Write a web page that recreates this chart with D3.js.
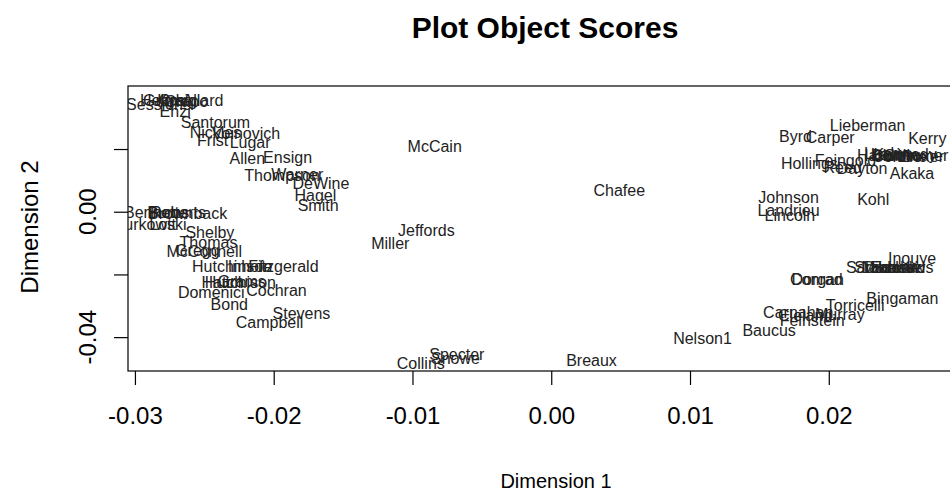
<!DOCTYPE html>
<html>
<head>
<meta charset="utf-8">
<script src="https://cdn.jsdelivr.net/npm/d3@7"></script>
<style>
  html, body { margin: 0; padding: 0; background: #fff; }
  text { font-family: "Liberation Sans", Arial, sans-serif; }
</style>
</head>
<body>
<div id="chart"></div>
<script>
/* Plot Object Scores — senators on two dimensions */

var senators = [
  'Sessions', 'Helms', 'Gramm', 'Kyl', 'Craig', 'Crapo', 'Allard', 'Enzi',
  'Santorum', 'Nickles', 'Voinovich', 'Frist', 'Lugar', 'Allen', 'Ensign',
  'Thompson', 'Warner', 'DeWine', 'Hagel', 'Smith', 'McCain', 'Chafee',
  'Jeffords', 'Miller',
  'Bennett', 'Burns', 'Roberts', 'Brownback', 'Murkowski', 'Lott', 'Shelby',
  'Thomas', 'McConnell', 'Gregg', 'Hutchinson', 'Inhofe', 'Fitzgerald',
  'Hutchison', 'Hatch', 'Grams', 'Domenici', 'Cochran', 'Bond', 'Stevens',
  'Campbell',
  'Collins', 'Specter', 'Snowe', 'Breaux', 'Nelson1',
  'Lieberman', 'Byrd', 'Carper', 'Kerry', 'Hollings', 'Feingold', 'Reed',
  'Dayton', 'Harkin', 'Levin', 'Durbin', 'Kennedy', 'Corzine', 'Leahy',
  'Boxer', 'Schumer', 'Akaka', 'Johnson', 'Landrieu', 'Lincoln', 'Kohl',
  'Inouye', 'Sarbanes', 'Mikulski', 'Daschle', 'Stabenow', 'Edwards',
  'Conrad', 'Dorgan', 'Bingaman', 'Torricelli', 'Carnahan', 'Cleland',
  'Murray', 'Feinstein', 'Baucus'
];

var dim1 = [
  -0.0283, -0.0280, -0.0275, -0.0276, -0.0269, -0.0263, -0.0251, -0.0271,
  -0.0242, -0.0242, -0.0220, -0.0244, -0.0217, -0.0219, -0.0190,
  -0.0194, -0.0183, -0.0166, -0.0170, -0.0168, -0.0084, 0.0049,
  -0.0090, -0.0116,
  -0.0288, -0.0276, -0.0269, -0.0262, -0.0290, -0.0280, -0.0246,
  -0.0247, -0.0250, -0.0255, -0.0230, -0.0217, -0.0193,
  -0.0224, -0.0237, -0.0223, -0.0245, -0.0198, -0.0232, -0.0180,
  -0.0203,
  -0.0094, -0.0068, -0.0069, 0.0029, 0.0109,
  0.0228, 0.0176, 0.0201, 0.0271, 0.0186, 0.0212, 0.0210,
  0.0224, 0.0237, 0.0244, 0.0248, 0.0255, 0.0251, 0.0241,
  0.0268, 0.0263, 0.0260, 0.0171, 0.0171, 0.0172, 0.0232,
  0.0260, 0.0237, 0.0244, 0.0246, 0.0244, 0.0253,
  0.0191, 0.0192, 0.0253, 0.0219, 0.0178, 0.0183,
  0.0208, 0.0188, 0.0157
];

var dim2 = [
  0.0343, 0.0356, 0.0356, 0.0356, 0.0356, 0.0353, 0.0356, 0.0321,
  0.0286, 0.0254, 0.0251, 0.0228, 0.0222, 0.0171, 0.0174,
  0.0117, 0.0120, 0.0091, 0.0053, 0.0021, 0.0209, 0.0069,
  -0.0059, -0.0101,
  -0.0002, -0.0002, -0.0001, -0.0005, -0.0040, -0.0040, -0.0066,
  -0.0097, -0.0126, -0.0123, -0.0174, -0.0174, -0.0174,
  -0.0225, -0.0225, -0.0222, -0.0257, -0.0251, -0.0295, -0.0324,
  -0.0353,
  -0.0484, -0.0455, -0.0468, -0.0474, -0.0404,
  0.0276, 0.0241, 0.0238, 0.0235, 0.0155, 0.0165, 0.0142,
  0.0139, 0.0179, 0.0182, 0.0179, 0.0182, 0.0176, 0.0185,
  0.0176, 0.0179, 0.0123, 0.0046, 0.0005, -0.0011, 0.0040,
  -0.0149, -0.0176, -0.0176, -0.0176, -0.0179, -0.0176,
  -0.0216, -0.0216, -0.0276, -0.0299, -0.0321, -0.0331,
  -0.0327, -0.0347, -0.0379
];

var xTicks = [-0.03, -0.02, -0.01, 0.00, 0.01, 0.02];
var yTicks = [-0.04, -0.02, 0.00, 0.02];
var yTickLabels = ['-0.04', '', '0.00', ''];

var W = 950, H = 493;
var plot = { left: 128, right: 962, top: 86, bottom: 371 };

var svg = d3.select('#chart').append('svg')
  .attr('width', W).attr('height', H);

var x = d3.scaleLinear().domain([-0.0305, 0.0296]).range([plot.left, plot.right]);
var y = d3.scaleLinear().domain([-0.0508, 0.0401]).range([plot.bottom, plot.top]);

/* title */
svg.append('text')
  .attr('x', 545).attr('y', 38)
  .attr('text-anchor', 'middle')
  .attr('font-size', 30).attr('font-weight', 'bold')
  .attr('fill', '#000')
  .text('Plot Object Scores');

/* clip for labels, like R's plot region */
svg.append('clipPath').attr('id', 'plotClip')
  .append('rect')
  .attr('x', plot.left).attr('y', plot.top)
  .attr('width', plot.right - plot.left).attr('height', plot.bottom - plot.top);

/* frame */
svg.append('rect')
  .attr('x', plot.left).attr('y', plot.top)
  .attr('width', plot.right - plot.left).attr('height', plot.bottom - plot.top)
  .attr('fill', 'none').attr('stroke', '#000').attr('stroke-width', 1.2);

/* x axis */
var xAxis = d3.axisBottom(x).tickValues(xTicks).tickSize(14).tickPadding(22)
  .tickFormat(d3.format('.2f'));
var gx = svg.append('g').attr('transform', 'translate(0,' + plot.bottom + ')').call(xAxis);
gx.select('.domain').remove();
gx.selectAll('line').attr('stroke', '#000').attr('stroke-width', 1.2);
gx.selectAll('text')
  .attr('font-size', 24).attr('fill', '#000')
  .attr('font-family', '"Liberation Sans", Arial, sans-serif')
  .text(function (d) { return d3.format('.2f')(d).replace('−', '-'); });

/* y axis */
var yAxis = d3.axisLeft(y).tickValues(yTicks).tickSize(14).tickFormat('');
var gy = svg.append('g').attr('transform', 'translate(' + plot.left + ',0)').call(yAxis);
gy.select('.domain').remove();
gy.selectAll('line').attr('stroke', '#000').attr('stroke-width', 1.2);

svg.append('g').selectAll('text')
  .data(yTicks)
  .join('text')
  .attr('transform', function (d) { return 'translate(88,' + y(d) + ') rotate(-90)'; })
  .attr('text-anchor', 'middle').attr('dy', '0.35em')
  .attr('font-size', 24).attr('fill', '#000')
  .text(function (d, i) { return yTickLabels[i]; });

/* axis titles */
svg.append('text')
  .attr('x', 556).attr('y', 488)
  .attr('text-anchor', 'middle')
  .attr('font-size', 20).attr('fill', '#000')
  .text('Dimension 1');

svg.append('text')
  .attr('transform', 'translate(38,' + 227 + ') rotate(-90)')
  .attr('text-anchor', 'middle')
  .attr('font-size', 24).attr('fill', '#000')
  .text('Dimension 2');

/* senator labels */
svg.append('g').attr('clip-path', 'url(#plotClip)')
  .selectAll('text')
  .data(senators)
  .join('text')
  .attr('x', function (d, i) { return x(dim1[i]); })
  .attr('y', function (d, i) { return y(dim2[i]); })
  .attr('dy', '0.35em')
  .attr('text-anchor', 'middle')
  .attr('font-size', 16).attr('fill', '#222')
  .text(function (d) { return d; });
</script>
</body>
</html>
